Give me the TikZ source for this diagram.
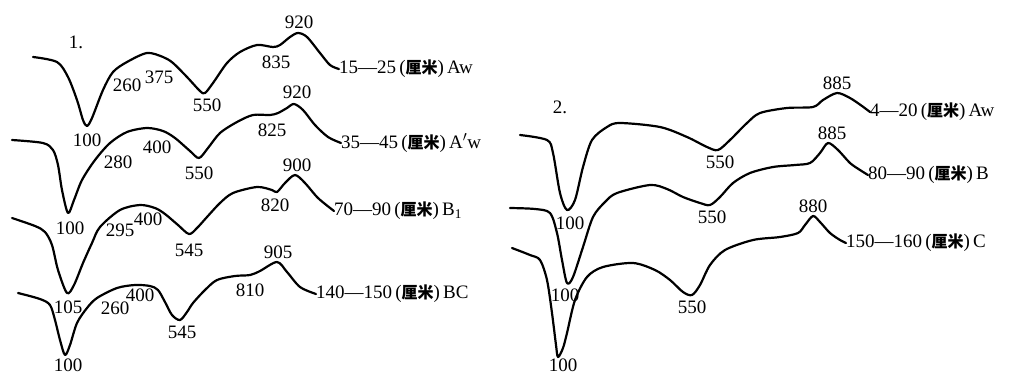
\documentclass[tikz,border=0pt]{standalone}
\usepackage{fontspec}
\setmainfont{Liberation Serif}
\newfontfamily\cjk{Noto Sans CJK SC}
\newcommand{\limi}{{\cjk\bfseries\fontsize{16}{16}\selectfont 厘米}}
\tikzset{
    curve/.style={ % Sets the properties for each thermal curve
        line width=2.2pt,
        line join=round,
        line cap=round
    },
    val/.style={ % Temperature labels
        inner sep=0pt,
        font=\fontsize{19}{19}\selectfont
    },
    depth/.style={ % Depth and horizon at the end of a curve
        val,
        anchor=west
    }
}
\begin{document}
\begin{tikzpicture}[x=1pt,y=-1pt]
    \useasboundingbox (0,0) rectangle (1009,376);
    % panel 1
    \node[val] (p1) at (76,42) {1.};
    \node[depth] (d1) at (339,69) {15—25\,(\limi)\,Aw};
    \node[depth] (d2) at (341,143) {35—45\,(\limi)\,A$'$w};
    \node[depth] (d3) at (334,211) {70—90\,(\limi)\,B\textsubscript{1}};
    \node[depth] (d4) at (316,294) {140—150\,(\limi)\,BC};
    \draw[curve] plot[smooth] coordinates {(33,57) (57,62) (68,77) (77,100) (83,120) (87,126) (92,118) (103,90) (113,72) (127,62) (147,53) (163,57) (173,63) (187,77) (200,91) (205,93) (213,83) (227,63) (240,52) (257,45) (273,47) (280,45) (290,37) (298,33) (307,37) (320,53) (330,65) (d1.west)};
    \draw[curve] plot[smooth] coordinates {(12,140) (43,143) (53,150) (58,165) (62,190) (68,213) (74,200) (82,180) (95,160) (110,143) (127,132) (147,128) (163,131) (175,138) (190,151) (199,158) (208,148) (220,133) (237,122) (253,115) (270,115) (278,113) (287,108) (294,104) (303,110) (315,125) (328,137) (d2.west)};
    \draw[curve] plot[smooth] coordinates {(12,218) (35,226) (45,232) (52,245) (58,270) (67,293) (74,285) (83,263) (92,243) (100,227) (120,210) (140,205) (155,208) (165,214) (178,225) (189,234) (197,228) (207,217) (220,203) (233,193) (257,187) (272,190) (277,192) (285,183) (295,175) (305,183) (318,198) (d3.west)};
    \draw[curve] plot[smooth] coordinates {(18,293) (40,299) (50,305) (55,320) (60,340) (65,355) (70,345) (77,323) (87,308) (97,298) (117,288) (135,285) (150,286) (158,290) (165,302) (172,315) (180,320) (187,312) (193,303) (205,290) (217,280) (235,276) (250,275) (260,271) (277,262) (287,272) (300,287) (d4.west)};
    \node[val] (a100) at (87,140) {100};
    \node[val] (a260) at (127,85) {260};
    \node[val] (a375) at (159,77) {375};
    \node[val] (a550) at (207,105) {550};
    \node[val] (a835) at (276,62) {835};
    \node[val] (a920) at (299,22) {920};
    \node[val] (b100) at (70,228) {100};
    \node[val] (b280) at (118,162) {280};
    \node[val] (b400) at (157,147) {400};
    \node[val] (b550) at (199,173) {550};
    \node[val] (b825) at (272,130) {825};
    \node[val] (b920) at (297,92) {920};
    \node[val] (c105) at (68,307) {105};
    \node[val] (c295) at (120,230) {295};
    \node[val] (c400) at (148,219) {400};
    \node[val] (c545) at (189,250) {545};
    \node[val] (c820) at (275,205) {820};
    \node[val] (c900) at (297,165) {900};
    \node[val] (e100) at (68,365) {100};
    \node[val] (e260) at (115,308) {260};
    \node[val] (e400) at (140,295) {400};
    \node[val] (e545) at (182,332) {545};
    \node[val] (e810) at (250,290) {810};
    \node[val] (e905) at (278,252) {905};
    % panel 2
    \node[val] (p2) at (560,107) {2.};
    \node[depth] (r1) at (870,112) {4—20\,(\limi)\,Aw};
    \node[depth] (r2) at (868,175) {80—90\,(\limi)\,B};
    \node[depth] (r3) at (846,243) {150—160\,(\limi)\,C};
    \draw[curve] plot[smooth] coordinates {(520,135) (547,140) (553,153) (560,193) (567,210) (575,200) (583,167) (592,140) (607,127) (620,123) (660,127) (687,137) (707,147) (718,150) (730,140) (747,123) (760,113) (787,108) (813,107) (823,100) (837,93) (850,98) (862,106) (r1.west)};
    \draw[curve] plot[smooth] coordinates {(510,208) (535,209) (550,213) (557,233) (562,260) (567,283) (573,277) (583,247) (593,217) (605,202) (617,193) (650,185) (667,189) (683,197) (700,203) (710,205) (720,197) (733,183) (750,173) (773,167) (795,165) (810,163) (820,153) (828,143) (838,150) (850,163) (860,170) (r2.west)};
    \draw[curve] plot[smooth] coordinates {(512,248) (530,255) (540,260) (547,280) (552,313) (556,345) (558,357) (563,348) (567,333) (575,300) (587,277) (603,267) (633,263) (655,270) (670,280) (683,292) (692,295) (700,285) (710,265) (725,250) (753,240) (780,237) (798,233) (805,225) (813,216) (820,222) (830,233) (840,240) (r3.west)};
    \node[val] (f100) at (570,223) {100};
    \node[val] (f550) at (720,162) {550};
    \node[val] (f885) at (837,83) {885};
    \node[val] (g100) at (565,295) {100};
    \node[val] (g550) at (712,217) {550};
    \node[val] (g885) at (832,133) {885};
    \node[val] (h100) at (563,365) {100};
    \node[val] (h550) at (692,307) {550};
    \node[val] (h880) at (813,206) {880};
\end{tikzpicture}
\end{document}
